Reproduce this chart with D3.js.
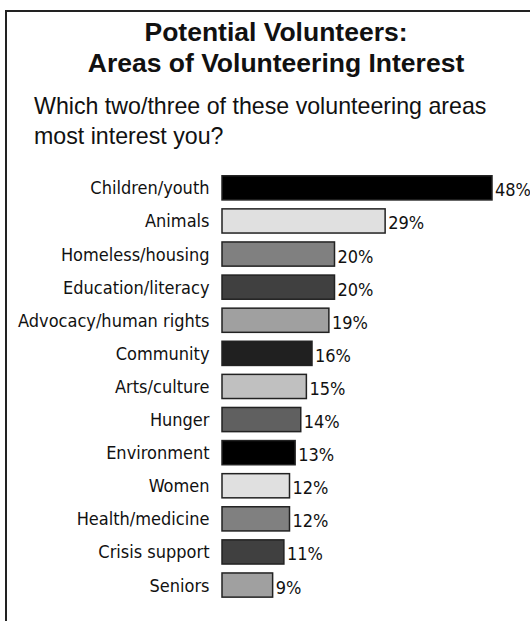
<!DOCTYPE html>
<html>
<head>
<meta charset="utf-8">
<script src="https://cdn.jsdelivr.net/npm/d3@7"></script>
<style>
  html, body { margin: 0; padding: 0; background: #fff; }
  svg { display: block; }
</style>
</head>
<body>
<svg id="chart" width="530" height="621"></svg>
<script>
// Survey answers: share of potential volunteers naming each area
const categories = [
  "Children/youth", "Animals", "Homeless/housing", "Education/literacy",
  "Advocacy/human rights", "Community", "Arts/culture", "Hunger",
  "Environment", "Women", "Health/medicine", "Crisis support", "Seniors"
];
const values = [48, 29, 20, 20, 19, 16, 15, 14, 13, 12, 12, 11, 9];
const barColors = [
  "#000000", "#e0e0e0", "#808080", "#404040", "#a0a0a0", "#202020",
  "#c0c0c0", "#606060", "#000000", "#e0e0e0", "#808080", "#404040", "#a0a0a0"
];
const titleLines = ["Potential Volunteers:", "Areas of Volunteering Interest"];
const questionLines = ["Which two/three of these volunteering areas", "most interest you?"];

const svg = d3.select("#chart");

// Open frame: left and top edges only
svg.append("path")
  .attr("d", "M6,625 L6,11 L535,11")
  .attr("fill", "none")
  .attr("stroke", "#222")
  .attr("stroke-width", 2);

// Title
svg.append("g").selectAll("text")
  .data(titleLines)
  .join("text")
  .attr("x", 276)
  .attr("y", (d, i) => 41 + i * 31)
  .attr("text-anchor", "middle")
  .attr("font-family", "Liberation Sans, Arial, sans-serif")
  .attr("font-weight", "bold")
  .attr("font-size", 26.5)
  .attr("fill", "#111")
  .text(d => d);

// Question
svg.append("g").selectAll("text")
  .data(questionLines)
  .join("text")
  .attr("x", 34)
  .attr("y", (d, i) => 114 + i * 30)
  .attr("font-family", "Liberation Sans, Arial, sans-serif")
  .attr("font-size", 23.2)
  .attr("fill", "#111")
  .text(d => d);

// Scales
const x = d3.scaleLinear().domain([0, 100]).range([222, 222 + 562.5]);
const y = d3.scaleBand()
  .domain(categories)
  .range([171.3, 171.3 + 13 * 33.1])
  .paddingInner(0.27)
  .paddingOuter(0.135);

const rows = categories.map((c, i) => ({ cat: c, val: values[i], color: barColors[i] }));

// Bars
svg.append("g").selectAll("rect")
  .data(rows)
  .join("rect")
  .attr("x", x(0))
  .attr("y", d => y(d.cat))
  .attr("width", d => x(d.val) - x(0))
  .attr("height", y.bandwidth())
  .attr("fill", d => d.color)
  .attr("stroke", "#222")
  .attr("stroke-width", 1.5);

// Category labels
const labelFont = "DejaVu Sans Condensed, DejaVu Sans, sans-serif";
svg.append("g").selectAll("text")
  .data(rows)
  .join("text")
  .attr("x", 209.5)
  .attr("y", d => y(d.cat) + y.bandwidth() / 2)
  .attr("dy", "0.36em")
  .attr("text-anchor", "end")
  .attr("font-family", labelFont)
  .attr("font-size", 18)
  .attr("fill", "#111")
  .text(d => d.cat);

// Value labels
svg.append("g").selectAll("text")
  .data(rows)
  .join("text")
  .attr("x", d => x(d.val) + 3)
  .attr("y", d => y(d.cat) + y.bandwidth() / 2 + 2)
  .attr("dy", "0.36em")
  .attr("font-family", labelFont)
  .attr("font-size", 18)
  .attr("fill", "#111")
  .text(d => d.val + "%");
</script>
</body>
</html>
